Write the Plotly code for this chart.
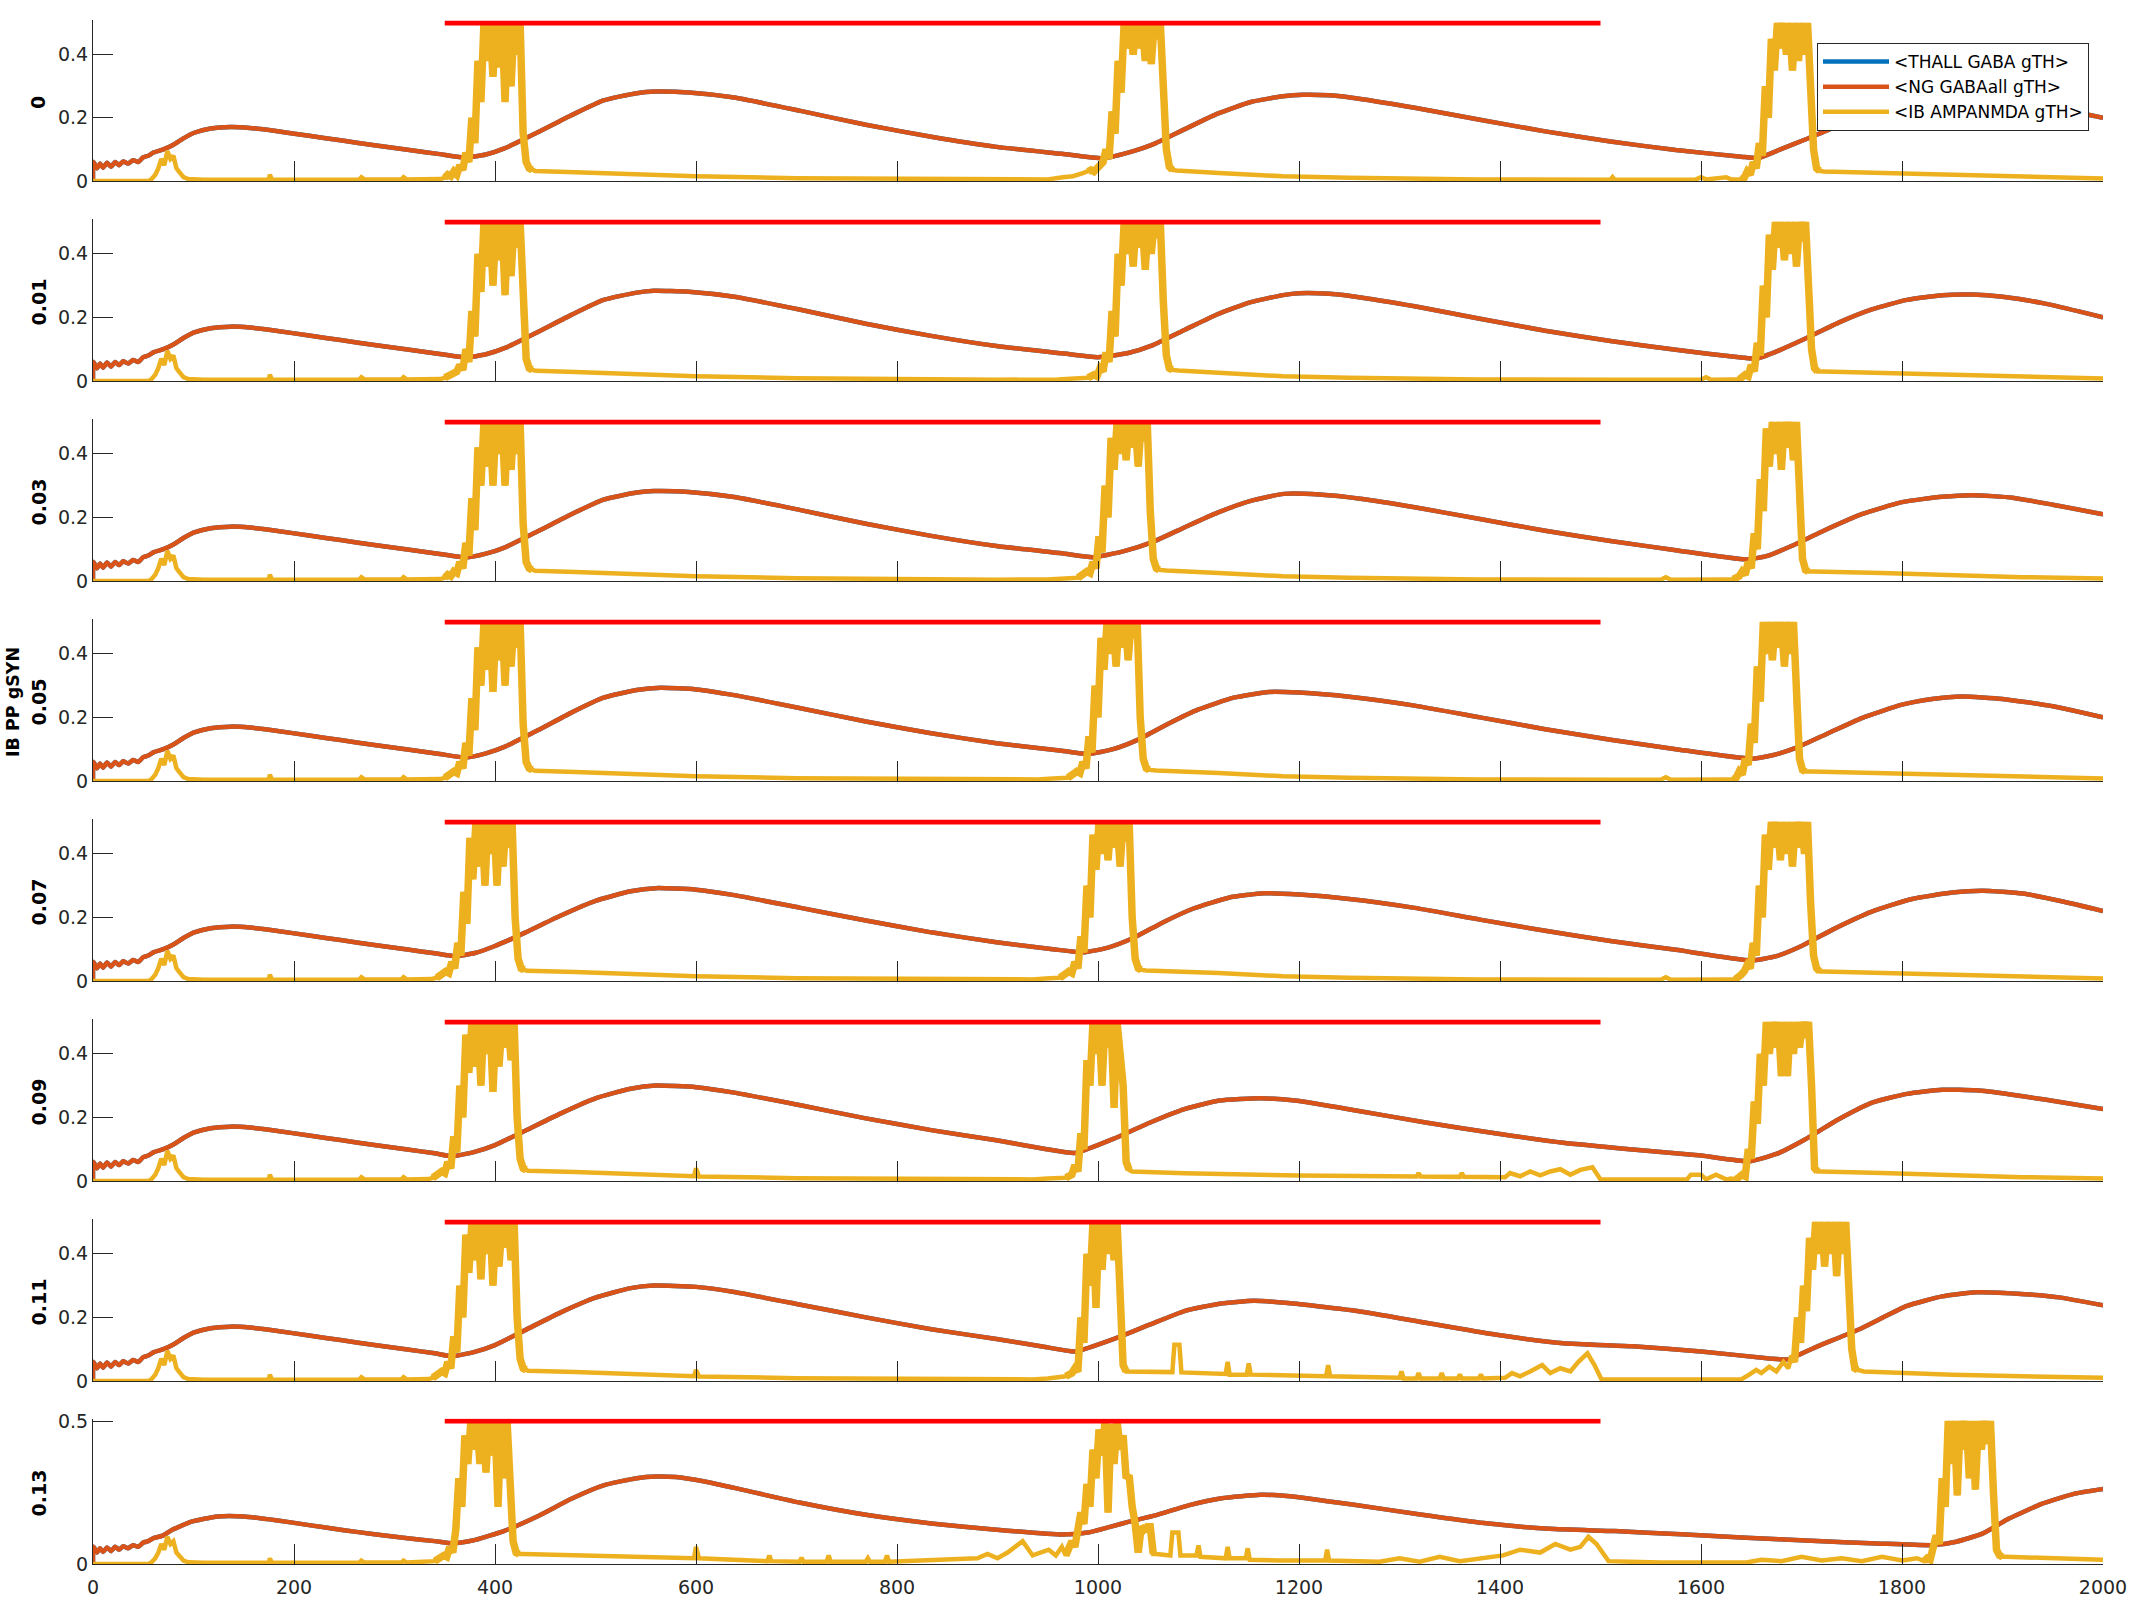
import plotly.graph_objects as go

W, H = 2133, 1600
FONT = "DejaVu Sans"
DARK = "#262626"
C_BLUE, C_ORANGE, C_YELLOW, C_RED = "#0072BD", "#D95319", "#EDB120", "#FF0000"

PANEL_LABELS = ["0", "0.01", "0.03", "0.05", "0.07", "0.09", "0.11", "0.13"]
SUPER_LABEL = "IB PP gSYN"
LEGEND_NAMES = ["<THALL GABA gTH>", "<NG GABAall gTH>", "<IB AMPANMDA gTH>"]
X_TICKS = [0, 200, 400, 600, 800, 1000, 1200, 1400, 1600, 1800, 2000]
STIM_X = [350, 1500]
STIM_Y = [0.5, 0.5]

# ---- orange <NG GABAall gTH> (the blue THALL trace lies hidden beneath it) ----
START_X = [0, 0.5, 4, 7, 10, 14, 18, 22, 26, 30, 35, 40, 45, 50, 55, 60]
START_Y = [0, 0.06, 0.04, 0.055, 0.042, 0.058, 0.045, 0.06, 0.05, 0.062, 0.055, 0.066, 0.06, 0.075, 0.08, 0.09]

P1_OR_X = [70, 80, 90, 100, 117, 137, 156, 182, 215, 248, 280, 313, 345, 371, 391, 410, 443, 476, 508, 541, 560, 593, 638, 704, 769, 834, 899, 964, 1005, 1030, 1054, 1087, 1119, 1152, 1184, 1204, 1230, 1263, 1315, 1380, 1445, 1510, 1575, 1640, 1657, 1679, 1705, 1738, 1780, 1820, 1860, 1900, 1940, 1977, 2000]
P1_OR_Y = [0.1, 0.115, 0.135, 0.152, 0.166, 0.171, 0.168, 0.158, 0.143, 0.128, 0.113, 0.099, 0.085, 0.074, 0.084, 0.104, 0.155, 0.208, 0.255, 0.278, 0.283, 0.28, 0.264, 0.222, 0.178, 0.14, 0.108, 0.086, 0.072, 0.09, 0.115, 0.165, 0.213, 0.25, 0.268, 0.273, 0.271, 0.259, 0.232, 0.194, 0.157, 0.125, 0.098, 0.077, 0.073, 0.1, 0.133, 0.177, 0.22, 0.25, 0.265, 0.262, 0.24, 0.215, 0.2]

P2_OR_X = [70, 80, 90, 100, 117, 137, 156, 182, 215, 248, 280, 313, 345, 371, 391, 410, 443, 476, 508, 541, 558, 593, 638, 704, 769, 834, 899, 964, 1000, 1030, 1054, 1087, 1119, 1152, 1184, 1200, 1230, 1263, 1315, 1380, 1445, 1510, 1575, 1640, 1655, 1679, 1705, 1738, 1770, 1805, 1840, 1870, 1900, 1940, 1977, 2000]
P2_OR_Y = [0.1, 0.115, 0.135, 0.152, 0.166, 0.171, 0.168, 0.158, 0.143, 0.128, 0.113, 0.099, 0.085, 0.074, 0.084, 0.104, 0.155, 0.208, 0.255, 0.278, 0.284, 0.281, 0.265, 0.224, 0.18, 0.142, 0.11, 0.087, 0.075, 0.088, 0.112, 0.162, 0.21, 0.248, 0.27, 0.276, 0.274, 0.262, 0.235, 0.196, 0.158, 0.126, 0.098, 0.074, 0.07, 0.098, 0.135, 0.185, 0.225, 0.255, 0.27, 0.272, 0.265, 0.245, 0.218, 0.2]

P3_OR_X = [70, 80, 90, 100, 117, 137, 156, 182, 215, 248, 280, 313, 345, 371, 391, 410, 443, 476, 508, 541, 558, 593, 638, 704, 769, 834, 899, 964, 995, 1025, 1054, 1087, 1119, 1152, 1185, 1220, 1263, 1315, 1380, 1445, 1510, 1575, 1645, 1665, 1690, 1720, 1760, 1800, 1840, 1870, 1910, 1950, 2000]
P3_OR_Y = [0.1, 0.115, 0.135, 0.152, 0.166, 0.171, 0.168, 0.158, 0.143, 0.128, 0.113, 0.099, 0.085, 0.074, 0.086, 0.106, 0.157, 0.21, 0.256, 0.278, 0.283, 0.28, 0.264, 0.223, 0.18, 0.142, 0.11, 0.087, 0.075, 0.093, 0.122, 0.17, 0.215, 0.252, 0.274, 0.272, 0.258, 0.232, 0.195, 0.158, 0.126, 0.097, 0.068, 0.078, 0.11, 0.155, 0.21, 0.248, 0.265, 0.27, 0.262, 0.24, 0.21]

P4_OR_X = [70, 80, 90, 100, 117, 137, 156, 182, 215, 248, 280, 313, 345, 371, 391, 410, 443, 476, 508, 541, 565, 600, 638, 704, 769, 834, 899, 964, 990, 1015, 1040, 1070, 1100, 1135, 1170, 1200, 1250, 1315, 1380, 1445, 1510, 1575, 1650, 1670, 1695, 1725, 1760, 1800, 1830, 1860, 1900, 1950, 2000]
P4_OR_Y = [0.1, 0.115, 0.135, 0.152, 0.166, 0.171, 0.168, 0.158, 0.143, 0.128, 0.113, 0.099, 0.085, 0.074, 0.087, 0.108, 0.16, 0.215, 0.262, 0.286, 0.293, 0.288, 0.27, 0.229, 0.187, 0.15, 0.119, 0.095, 0.085, 0.1, 0.13, 0.18, 0.225, 0.262, 0.28, 0.278, 0.265, 0.237, 0.2, 0.163, 0.13, 0.1, 0.07, 0.08, 0.105, 0.148, 0.198, 0.24, 0.258, 0.266, 0.258, 0.235, 0.2]

P5_OR_X = [70, 80, 90, 100, 117, 137, 156, 182, 215, 248, 280, 313, 340, 360, 380, 400, 430, 465, 500, 535, 560, 600, 638, 704, 769, 834, 899, 955, 985, 1010, 1035, 1065, 1095, 1130, 1165, 1200, 1250, 1315, 1380, 1445, 1510, 1575, 1650, 1675, 1700, 1730, 1770, 1810, 1850, 1880, 1920, 1960, 2000]
P5_OR_Y = [0.1, 0.115, 0.135, 0.152, 0.166, 0.171, 0.168, 0.158, 0.143, 0.128, 0.113, 0.099, 0.087, 0.078, 0.088, 0.11, 0.152, 0.205, 0.252, 0.282, 0.292, 0.287, 0.27, 0.23, 0.19, 0.153, 0.122, 0.1, 0.09, 0.105, 0.135, 0.185, 0.228, 0.262, 0.276, 0.272, 0.258, 0.23, 0.193, 0.158, 0.126, 0.098, 0.065, 0.078, 0.11, 0.16, 0.218, 0.258, 0.278, 0.284, 0.275, 0.25, 0.22]

P6_OR_X = [70, 80, 90, 100, 117, 137, 156, 182, 215, 248, 280, 313, 340, 357, 378, 400, 430, 465, 500, 535, 560, 600, 638, 704, 769, 834, 899, 949, 977, 1018, 1052, 1086, 1121, 1162, 1196, 1258, 1326, 1395, 1463, 1532, 1600, 1648, 1675, 1703, 1737, 1771, 1805, 1840, 1874, 1908, 1942, 2000]
P6_OR_Y = [0.1, 0.115, 0.135, 0.152, 0.166, 0.171, 0.168, 0.158, 0.143, 0.128, 0.113, 0.099, 0.087, 0.078, 0.09, 0.113, 0.158, 0.212, 0.26, 0.29, 0.3, 0.295, 0.278, 0.238, 0.197, 0.16, 0.128, 0.1, 0.088, 0.136, 0.184, 0.226, 0.253, 0.26, 0.253, 0.221, 0.184, 0.15, 0.12, 0.099, 0.08, 0.062, 0.085, 0.13, 0.194, 0.247, 0.274, 0.287, 0.285, 0.272, 0.256, 0.226]

P7_OR_X = [70, 80, 90, 100, 117, 137, 156, 182, 215, 248, 280, 313, 340, 357, 378, 400, 430, 465, 500, 535, 558, 600, 638, 704, 769, 834, 899, 949, 977, 1018, 1052, 1086, 1121, 1155, 1189, 1258, 1326, 1395, 1463, 1532, 1600, 1668, 1686, 1716, 1757, 1805, 1840, 1874, 1922, 1956, 2000]
P7_OR_Y = [0.1, 0.115, 0.135, 0.152, 0.166, 0.171, 0.168, 0.158, 0.143, 0.128, 0.113, 0.099, 0.087, 0.078, 0.09, 0.113, 0.16, 0.215, 0.262, 0.292, 0.3, 0.296, 0.28, 0.24, 0.2, 0.163, 0.132, 0.106, 0.093, 0.135, 0.178, 0.22, 0.243, 0.252, 0.245, 0.22, 0.183, 0.146, 0.119, 0.109, 0.093, 0.071, 0.068, 0.109, 0.162, 0.236, 0.266, 0.279, 0.273, 0.263, 0.238]

P8_OR_X = [70, 78, 98, 124, 150, 182, 215, 248, 280, 313, 340, 358, 378, 410, 443, 476, 508, 541, 560, 580, 606, 638, 704, 769, 834, 899, 964, 990, 1012, 1031, 1057, 1090, 1123, 1162, 1188, 1253, 1319, 1384, 1449, 1514, 1580, 1645, 1710, 1775, 1831, 1854, 1880, 1906, 1939, 1971, 2000]
P8_OR_Y = [0.1, 0.118, 0.148, 0.166, 0.166, 0.153, 0.136, 0.119, 0.104, 0.09, 0.08, 0.072, 0.082, 0.117, 0.168, 0.228, 0.275, 0.3, 0.306, 0.304, 0.29, 0.266, 0.214, 0.172, 0.142, 0.12, 0.103, 0.11, 0.13, 0.148, 0.17, 0.205, 0.23, 0.242, 0.238, 0.208, 0.174, 0.143, 0.123, 0.115, 0.104, 0.092, 0.081, 0.072, 0.066, 0.078, 0.106, 0.158, 0.21, 0.245, 0.262]

# ---- yellow <IB AMPANMDA gTH>: shared early bump, per-panel baseline, bursts (3 ms samples) ----
BUMP_X = [0, 55, 58, 62, 65, 68, 71, 74, 77, 80, 83, 86, 90, 95, 110]
BUMP_Y = [0, 0, 0.005, 0.02, 0.04, 0.07, 0.05, 0.095, 0.07, 0.08, 0.04, 0.03, 0.012, 0.006, 0.004]
BURST_STEP = 3

P1_YB_X = [175, 176, 178, 265, 267, 270, 307, 309, 312, 345, 440, 480, 530, 600, 700, 800, 900, 950, 965, 975, 985, 1078, 1120, 1184, 1250, 1380, 1510, 1512, 1514, 1595, 1600, 1605, 1625, 1630, 1636, 1722, 1780, 1850, 1920, 2000]
P1_YB_Y = [0.004, 0.02, 0.004, 0.005, 0.012, 0.005, 0.005, 0.012, 0.005, 0.006, 0.032, 0.028, 0.022, 0.015, 0.009, 0.006, 0.004, 0.005, 0.012, 0.015, 0.025, 0.033, 0.025, 0.015, 0.01, 0.005, 0.004, 0.012, 0.004, 0.005, 0.012, 0.005, 0.012, 0.005, 0.005, 0.03, 0.025, 0.018, 0.012, 0.008]
P1_B1 = (350, [0.01, 0.02, 0.015, 0.03, 0.02, 0.05, 0.035, 0.09, 0.06, 0.2, 0.12, 0.38, 0.25, 0.5, 0.38, 0.5, 0.33, 0.5, 0.36, 0.5, 0.25, 0.5, 0.3, 0.5, 0.4, 0.5, 0.15, 0.06, 0.04, 0.035])
P1_B2 = (990, [0.03, 0.035, 0.03, 0.04, 0.045, 0.06, 0.1, 0.07, 0.22, 0.15, 0.38, 0.28, 0.5, 0.42, 0.5, 0.4, 0.5, 0.42, 0.5, 0.38, 0.5, 0.37, 0.5, 0.45, 0.5, 0.25, 0.1, 0.045, 0.035])
P1_B3 = (1640, [0.005, 0.01, 0.03, 0.02, 0.06, 0.04, 0.12, 0.08, 0.3, 0.2, 0.45, 0.35, 0.5, 0.42, 0.5, 0.4, 0.5, 0.35, 0.5, 0.38, 0.5, 0.4, 0.5, 0.3, 0.1, 0.04, 0.032])

P2_YB_X = [175, 176, 178, 265, 267, 270, 307, 309, 312, 345, 441, 480, 530, 600, 700, 800, 900, 960, 975, 985, 1080, 1120, 1184, 1250, 1380, 1510, 1600, 1605, 1610, 1630, 1722, 1780, 1850, 1920, 2000]
P2_YB_Y = [0.004, 0.02, 0.004, 0.005, 0.012, 0.005, 0.005, 0.012, 0.005, 0.006, 0.032, 0.028, 0.022, 0.015, 0.009, 0.006, 0.004, 0.005, 0.008, 0.01, 0.033, 0.025, 0.015, 0.01, 0.005, 0.004, 0.004, 0.012, 0.004, 0.005, 0.03, 0.025, 0.018, 0.012, 0.008]
P2_B1 = (350, [0.01, 0.015, 0.02, 0.025, 0.03, 0.05, 0.035, 0.1, 0.06, 0.22, 0.14, 0.4, 0.28, 0.5, 0.36, 0.5, 0.3, 0.5, 0.38, 0.5, 0.27, 0.5, 0.33, 0.5, 0.42, 0.5, 0.2, 0.07, 0.04, 0.035])
P2_B2 = (990, [0.01, 0.015, 0.02, 0.015, 0.04, 0.03, 0.09, 0.06, 0.22, 0.14, 0.4, 0.3, 0.5, 0.4, 0.5, 0.36, 0.5, 0.42, 0.5, 0.35, 0.5, 0.4, 0.5, 0.45, 0.5, 0.25, 0.08, 0.04, 0.035])
P2_B3 = (1638, [0.005, 0.01, 0.02, 0.015, 0.05, 0.03, 0.12, 0.08, 0.3, 0.2, 0.46, 0.35, 0.5, 0.42, 0.5, 0.38, 0.5, 0.4, 0.5, 0.36, 0.5, 0.44, 0.5, 0.3, 0.1, 0.04, 0.03])

P3_YB_X = [175, 176, 178, 265, 267, 270, 307, 309, 312, 345, 440, 480, 530, 600, 700, 800, 900, 950, 965, 975, 1068, 1120, 1184, 1250, 1380, 1510, 1560, 1565, 1570, 1628, 1712, 1780, 1850, 1920, 2000]
P3_YB_Y = [0.004, 0.02, 0.004, 0.005, 0.012, 0.005, 0.005, 0.012, 0.005, 0.006, 0.032, 0.028, 0.022, 0.015, 0.009, 0.006, 0.004, 0.005, 0.008, 0.01, 0.033, 0.025, 0.015, 0.01, 0.005, 0.004, 0.004, 0.012, 0.004, 0.005, 0.03, 0.025, 0.018, 0.012, 0.008]
P3_B1 = (350, [0.01, 0.02, 0.015, 0.03, 0.025, 0.06, 0.04, 0.12, 0.08, 0.26, 0.16, 0.42, 0.3, 0.5, 0.36, 0.5, 0.3, 0.5, 0.4, 0.5, 0.3, 0.5, 0.35, 0.5, 0.4, 0.5, 0.18, 0.06, 0.04, 0.035])
P3_B2 = (980, [0.01, 0.015, 0.02, 0.03, 0.025, 0.06, 0.04, 0.14, 0.09, 0.3, 0.2, 0.45, 0.35, 0.5, 0.4, 0.5, 0.38, 0.5, 0.42, 0.5, 0.36, 0.5, 0.44, 0.5, 0.22, 0.07, 0.04, 0.035])
P3_B3 = (1632, [0.005, 0.01, 0.015, 0.03, 0.02, 0.06, 0.04, 0.15, 0.1, 0.32, 0.22, 0.48, 0.36, 0.5, 0.4, 0.5, 0.35, 0.5, 0.42, 0.5, 0.38, 0.5, 0.2, 0.07, 0.035, 0.03])

P4_YB_X = [175, 176, 178, 265, 267, 270, 307, 309, 312, 345, 440, 480, 530, 600, 700, 800, 900, 940, 955, 965, 1058, 1120, 1184, 1250, 1380, 1510, 1560, 1565, 1570, 1628, 1710, 1780, 1850, 1920, 2000]
P4_YB_Y = [0.004, 0.02, 0.004, 0.005, 0.012, 0.005, 0.005, 0.012, 0.005, 0.006, 0.032, 0.028, 0.022, 0.015, 0.009, 0.006, 0.004, 0.005, 0.008, 0.01, 0.033, 0.025, 0.015, 0.01, 0.005, 0.004, 0.004, 0.012, 0.004, 0.005, 0.03, 0.025, 0.018, 0.012, 0.008]
P4_B1 = (350, [0.01, 0.015, 0.02, 0.03, 0.025, 0.06, 0.04, 0.12, 0.08, 0.26, 0.16, 0.42, 0.3, 0.5, 0.35, 0.5, 0.28, 0.5, 0.38, 0.5, 0.3, 0.5, 0.36, 0.5, 0.42, 0.5, 0.18, 0.06, 0.04, 0.035])
P4_B2 = (970, [0.01, 0.015, 0.02, 0.03, 0.025, 0.06, 0.04, 0.14, 0.09, 0.3, 0.2, 0.45, 0.35, 0.5, 0.4, 0.5, 0.36, 0.5, 0.42, 0.5, 0.38, 0.5, 0.45, 0.5, 0.2, 0.07, 0.04, 0.035])
P4_B3 = (1632, [0.005, 0.01, 0.03, 0.02, 0.07, 0.05, 0.18, 0.12, 0.36, 0.25, 0.5, 0.4, 0.5, 0.38, 0.5, 0.42, 0.5, 0.36, 0.5, 0.4, 0.5, 0.2, 0.07, 0.035, 0.03])

P5_YB_X = [175, 176, 178, 265, 267, 270, 307, 309, 312, 336, 432, 480, 530, 600, 700, 800, 900, 935, 948, 958, 1048, 1120, 1184, 1250, 1380, 1510, 1560, 1565, 1570, 1630, 1722, 1780, 1850, 1920, 2000]
P5_YB_Y = [0.004, 0.02, 0.004, 0.005, 0.012, 0.005, 0.005, 0.012, 0.005, 0.006, 0.032, 0.028, 0.022, 0.015, 0.009, 0.006, 0.004, 0.005, 0.008, 0.01, 0.033, 0.025, 0.015, 0.01, 0.005, 0.004, 0.004, 0.012, 0.004, 0.005, 0.03, 0.025, 0.018, 0.012, 0.008]
P5_B1 = (342, [0.01, 0.015, 0.02, 0.03, 0.025, 0.06, 0.04, 0.12, 0.08, 0.28, 0.18, 0.45, 0.32, 0.5, 0.36, 0.5, 0.3, 0.5, 0.4, 0.5, 0.3, 0.5, 0.36, 0.5, 0.42, 0.5, 0.2, 0.07, 0.04, 0.035])
P5_B2 = (962, [0.01, 0.015, 0.02, 0.03, 0.025, 0.06, 0.04, 0.14, 0.09, 0.3, 0.2, 0.46, 0.35, 0.5, 0.4, 0.5, 0.38, 0.5, 0.42, 0.5, 0.36, 0.5, 0.44, 0.5, 0.2, 0.07, 0.04, 0.035])
P5_B3 = (1634, [0.005, 0.01, 0.02, 0.03, 0.05, 0.04, 0.12, 0.08, 0.3, 0.2, 0.46, 0.35, 0.5, 0.42, 0.5, 0.38, 0.5, 0.4, 0.5, 0.36, 0.5, 0.42, 0.5, 0.4, 0.5, 0.25, 0.08, 0.04, 0.03])

P6_YB_X = [175, 176, 178, 265, 267, 270, 307, 309, 312, 334, 433, 480, 530, 598, 600, 603, 700, 800, 900, 935, 950, 962, 1034, 1086, 1200, 1292, 1317, 1319, 1321, 1360, 1362, 1364, 1405, 1410, 1420, 1430, 1440, 1450, 1460, 1470, 1480, 1492, 1497, 1500, 1586, 1590, 1600, 1605, 1615, 1625, 1630, 1719, 1780, 1850, 1920, 2000]
P6_YB_Y = [0.004, 0.02, 0.004, 0.005, 0.012, 0.005, 0.005, 0.012, 0.005, 0.006, 0.032, 0.028, 0.022, 0.015, 0.04, 0.014, 0.009, 0.006, 0.004, 0.005, 0.008, 0.01, 0.03, 0.024, 0.017, 0.014, 0.014, 0.025, 0.014, 0.013, 0.025, 0.013, 0.012, 0.025, 0.015, 0.03, 0.018, 0.03, 0.037, 0.02, 0.035, 0.043, 0.02, 0.005, 0.005, 0.02, 0.02, 0.005, 0.02, 0.005, 0.008, 0.03, 0.025, 0.018, 0.012, 0.008]
P6_B1 = (338, [0.01, 0.015, 0.02, 0.03, 0.025, 0.06, 0.04, 0.14, 0.09, 0.3, 0.2, 0.46, 0.34, 0.5, 0.36, 0.5, 0.3, 0.5, 0.4, 0.5, 0.28, 0.5, 0.36, 0.5, 0.42, 0.5, 0.38, 0.5, 0.2, 0.07, 0.04, 0.035])
P6_B2 = (968, [0.01, 0.015, 0.02, 0.05, 0.03, 0.15, 0.1, 0.38, 0.3, 0.5, 0.4, 0.5, 0.3, 0.5, 0.42, 0.5, 0.23, 0.5, 0.4, 0.3, 0.06, 0.035])
P6_B3 = (1635, [0.005, 0.01, 0.02, 0.015, 0.1, 0.07, 0.25, 0.18, 0.4, 0.3, 0.5, 0.4, 0.5, 0.42, 0.5, 0.33, 0.5, 0.33, 0.5, 0.4, 0.5, 0.42, 0.5, 0.45, 0.5, 0.3, 0.04, 0.03])

P7_YB_X = [175, 176, 178, 265, 267, 270, 307, 309, 312, 334, 433, 480, 530, 598, 600, 603, 700, 800, 900, 935, 950, 962, 1031, 1074, 1076, 1081, 1083, 1127, 1129, 1131, 1148, 1150, 1152, 1227, 1229, 1231, 1300, 1302, 1304, 1317, 1319, 1321, 1340, 1342, 1344, 1358, 1360, 1362, 1379, 1381, 1383, 1405, 1412, 1420, 1430, 1442, 1450, 1460, 1470, 1478, 1487, 1494, 1501, 1640, 1648, 1655, 1660, 1668, 1675, 1682, 1687, 1762, 1800, 1850, 1920, 2000]
P7_YB_Y = [0.004, 0.02, 0.004, 0.005, 0.012, 0.005, 0.005, 0.012, 0.005, 0.006, 0.032, 0.028, 0.022, 0.015, 0.035, 0.014, 0.009, 0.006, 0.004, 0.005, 0.008, 0.012, 0.03, 0.028, 0.114, 0.114, 0.027, 0.022, 0.06, 0.02, 0.02, 0.055, 0.02, 0.015, 0.05, 0.015, 0.01, 0.03, 0.008, 0.008, 0.025, 0.008, 0.008, 0.025, 0.008, 0.008, 0.02, 0.008, 0.008, 0.02, 0.008, 0.01, 0.025, 0.015, 0.03, 0.05, 0.025, 0.04, 0.03, 0.06, 0.087, 0.05, 0.005, 0.005, 0.02, 0.035, 0.025, 0.045, 0.03, 0.06, 0.04, 0.03, 0.025, 0.02, 0.015, 0.01]
P7_B1 = (338, [0.01, 0.015, 0.02, 0.03, 0.025, 0.06, 0.04, 0.14, 0.09, 0.3, 0.2, 0.46, 0.34, 0.5, 0.38, 0.5, 0.32, 0.5, 0.4, 0.5, 0.3, 0.5, 0.36, 0.5, 0.42, 0.5, 0.38, 0.5, 0.2, 0.07, 0.04, 0.035])
P7_B2 = (968, [0.015, 0.02, 0.025, 0.04, 0.03, 0.2, 0.12, 0.4, 0.3, 0.5, 0.23, 0.5, 0.35, 0.5, 0.4, 0.5, 0.38, 0.5, 0.3, 0.05, 0.03])
P7_B3 = (1690, [0.08, 0.06, 0.2, 0.12, 0.3, 0.22, 0.45, 0.35, 0.5, 0.4, 0.5, 0.36, 0.5, 0.4, 0.5, 0.33, 0.5, 0.4, 0.5, 0.3, 0.1, 0.04, 0.035])

P8_YB_X = [175, 176, 178, 265, 267, 270, 307, 309, 312, 336, 428, 480, 530, 598, 600, 603, 671, 673, 675, 703, 705, 707, 730, 732, 734, 769, 771, 773, 788, 790, 792, 880, 890, 900, 910, 925, 935, 951, 958, 964, 1058, 1072, 1074, 1080, 1082, 1098, 1100, 1102, 1127, 1129, 1131, 1147, 1149, 1151, 1180, 1208, 1226, 1228, 1230, 1280, 1300, 1320, 1340, 1360, 1384, 1403, 1420, 1440, 1455, 1470, 1480, 1488, 1496, 1508, 1560, 1645, 1660, 1680, 1700, 1720, 1740, 1760, 1780, 1800, 1815, 1904, 1950, 2000]
P8_YB_Y = [0.004, 0.02, 0.004, 0.005, 0.012, 0.005, 0.005, 0.012, 0.005, 0.006, 0.035, 0.03, 0.025, 0.02, 0.06, 0.02, 0.01, 0.03, 0.01, 0.008, 0.022, 0.008, 0.008, 0.03, 0.008, 0.008, 0.02, 0.008, 0.008, 0.03, 0.008, 0.02, 0.035, 0.02, 0.04, 0.08, 0.03, 0.05, 0.03, 0.06, 0.035, 0.03, 0.11, 0.11, 0.03, 0.03, 0.065, 0.025, 0.02, 0.06, 0.02, 0.02, 0.055, 0.015, 0.012, 0.012, 0.012, 0.05, 0.012, 0.008, 0.02, 0.008, 0.025, 0.01, 0.02, 0.03, 0.05, 0.04, 0.07, 0.05, 0.06, 0.095, 0.07, 0.01, 0.005, 0.005, 0.015, 0.01, 0.025, 0.012, 0.02, 0.01, 0.025, 0.012, 0.02, 0.025, 0.02, 0.015]
P8_B1 = (340, [0.01, 0.015, 0.02, 0.03, 0.025, 0.06, 0.04, 0.12, 0.3, 0.2, 0.45, 0.35, 0.5, 0.4, 0.5, 0.35, 0.5, 0.32, 0.5, 0.38, 0.5, 0.2, 0.5, 0.3, 0.5, 0.28, 0.08, 0.04, 0.035])
P8_B2 = (968, [0.03, 0.05, 0.08, 0.06, 0.12, 0.18, 0.14, 0.28, 0.2, 0.4, 0.3, 0.47, 0.38, 0.5, 0.18, 0.49, 0.35, 0.5, 0.4, 0.45, 0.3, 0.31, 0.2, 0.14, 0.04, 0.13, 0.12, 0.13, 0.13, 0.035])
P8_B3 = (1822, [0.01, 0.02, 0.015, 0.05, 0.1, 0.07, 0.3, 0.2, 0.5, 0.35, 0.5, 0.24, 0.5, 0.4, 0.5, 0.3, 0.5, 0.26, 0.5, 0.4, 0.5, 0.42, 0.5, 0.25, 0.05, 0.03, 0.025])

ORANGE_SERIES = [(P1_OR_X, P1_OR_Y), (P2_OR_X, P2_OR_Y), (P3_OR_X, P3_OR_Y), (P4_OR_X, P4_OR_Y),
                 (P5_OR_X, P5_OR_Y), (P6_OR_X, P6_OR_Y), (P7_OR_X, P7_OR_Y), (P8_OR_X, P8_OR_Y)]
YBASE = [(P1_YB_X, P1_YB_Y), (P2_YB_X, P2_YB_Y), (P3_YB_X, P3_YB_Y), (P4_YB_X, P4_YB_Y),
         (P5_YB_X, P5_YB_Y), (P6_YB_X, P6_YB_Y), (P7_YB_X, P7_YB_Y), (P8_YB_X, P8_YB_Y)]
BURSTS = [(P1_B1, P1_B2, P1_B3), (P2_B1, P2_B2, P2_B3), (P3_B1, P3_B2, P3_B3), (P4_B1, P4_B2, P4_B3),
          (P5_B1, P5_B2, P5_B3), (P6_B1, P6_B2, P6_B3), (P7_B1, P7_B2, P7_B3), (P8_B1, P8_B2, P8_B3)]

# ---- layout geometry (pixels) ----
X_LEFT, X_RIGHT = 93, 2103
TOPS = [23, 222, 422, 622, 822, 1022, 1222, 1421]      # pixel of y = 0.5
BOTTOMS = [181, 381, 581, 781, 981, 1181, 1381, 1564]  # pixel of y = 0
Y_TOP = 0.508
LW = 4.5          # normal line width
BURST_LW = 7.5    # dense burst oscillation renders as a solid band


def burst_points(start, vals):
    return [(start + BURST_STEP * k, v) for k, v in enumerate(vals)]


def yellow_series(i):
    pts = list(zip(BUMP_X, BUMP_Y)) + list(zip(*YBASE[i]))
    for start, vals in BURSTS[i]:
        pts += burst_points(start, vals)
    pts.sort(key=lambda p: p[0])
    return [p[0] for p in pts], [p[1] for p in pts]


fig = go.Figure()
annotations = []
for i in range(8):
    n = "" if i == 0 else str(i + 1)
    xa, ya = "x" + n, "y" + n
    first = i == 0
    ox, oy = ORANGE_SERIES[i]
    fig.add_trace(go.Scatter(x=START_X + ox, y=START_Y + oy, mode="lines", xaxis=xa, yaxis=ya,
                             line=dict(color=C_BLUE, width=LW, shape="spline", smoothing=0.5),
                             name=LEGEND_NAMES[0], showlegend=first, legendrank=1))
    fig.add_trace(go.Scatter(x=START_X + ox, y=START_Y + oy, mode="lines", xaxis=xa, yaxis=ya,
                             line=dict(color=C_ORANGE, width=LW, shape="spline", smoothing=0.5),
                             name=LEGEND_NAMES[1], showlegend=first, legendrank=2))
    yx, yy = yellow_series(i)
    fig.add_trace(go.Scatter(x=yx, y=yy, mode="lines", xaxis=xa, yaxis=ya,
                             line=dict(color=C_YELLOW, width=LW), name=LEGEND_NAMES[2],
                             showlegend=first, legendrank=3))
    for start, vals in BURSTS[i]:
        bp = burst_points(start, vals)
        fig.add_trace(go.Scatter(x=[p[0] for p in bp], y=[p[1] for p in bp], mode="lines",
                                 xaxis=xa, yaxis=ya, line=dict(color=C_YELLOW, width=BURST_LW),
                                 showlegend=False))
    fig.add_trace(go.Scatter(x=STIM_X, y=STIM_Y, mode="lines", xaxis=xa, yaxis=ya,
                             line=dict(color=C_RED, width=5), showlegend=False))

    b, t = BOTTOMS[i], TOPS[i]
    top_px = b - (b - t) * Y_TOP / 0.5
    dom_y = [1 - b / H, 1 - top_px / H]
    last = i == 7
    fig.layout["xaxis" + n] = dict(
        domain=[X_LEFT / W, X_RIGHT / W], range=[0, 2000], anchor=ya, automargin=False,
        tickvals=X_TICKS, ticktext=[str(v) for v in X_TICKS], showticklabels=last,
        ticks="inside", ticklen=20, tickwidth=1, tickcolor=DARK,
        showline=True, linecolor=DARK, linewidth=1, showgrid=False, zeroline=False,
        tickfont=dict(family=FONT, size=19, color=DARK), ticklabelstandoff=6)
    yt = [0, 0.5] if last else [0, 0.2, 0.4]
    fig.layout["yaxis" + n] = dict(
        domain=dom_y, range=[0, Y_TOP], anchor=xa, automargin=False,
        tickvals=yt, ticktext=[("%g" % v) for v in yt],
        ticks="inside", ticklen=20, tickwidth=1, tickcolor=DARK,
        showline=True, linecolor=DARK, linewidth=1, showgrid=False, zeroline=False,
        tickfont=dict(family=FONT, size=19, color=DARK), ticklabelstandoff=0)
    annotations.append(dict(text="<b>%s</b>" % PANEL_LABELS[i], xref="paper", yref="paper",
                            x=38 / W, y=1 - (b + t) / 2 / H, textangle=-90, showarrow=False,
                            xanchor="center", yanchor="middle",
                            font=dict(family=FONT, size=19, color="black")))

annotations.append(dict(text="<b>%s</b>" % SUPER_LABEL, xref="paper", yref="paper",
                        x=13 / W, y=1 - 702 / H, textangle=-90, showarrow=False,
                        xanchor="center", yanchor="middle",
                        font=dict(family=FONT, size=17.5, color="black")))

fig.update_layout(
    width=W, height=H, margin=dict(l=0, r=0, t=0, b=0, autoexpand=False),
    paper_bgcolor="white", plot_bgcolor="white",
    annotations=annotations,
    showlegend=True,
    legend=dict(x=2089 / W, y=1 - 43 / H, xanchor="right", yanchor="top",
                bgcolor="white", bordercolor=DARK, borderwidth=1,
                font=dict(family=FONT, size=17, color="black"),
                itemwidth=66, tracegroupgap=0),
)

fig.write_html("out.html")
